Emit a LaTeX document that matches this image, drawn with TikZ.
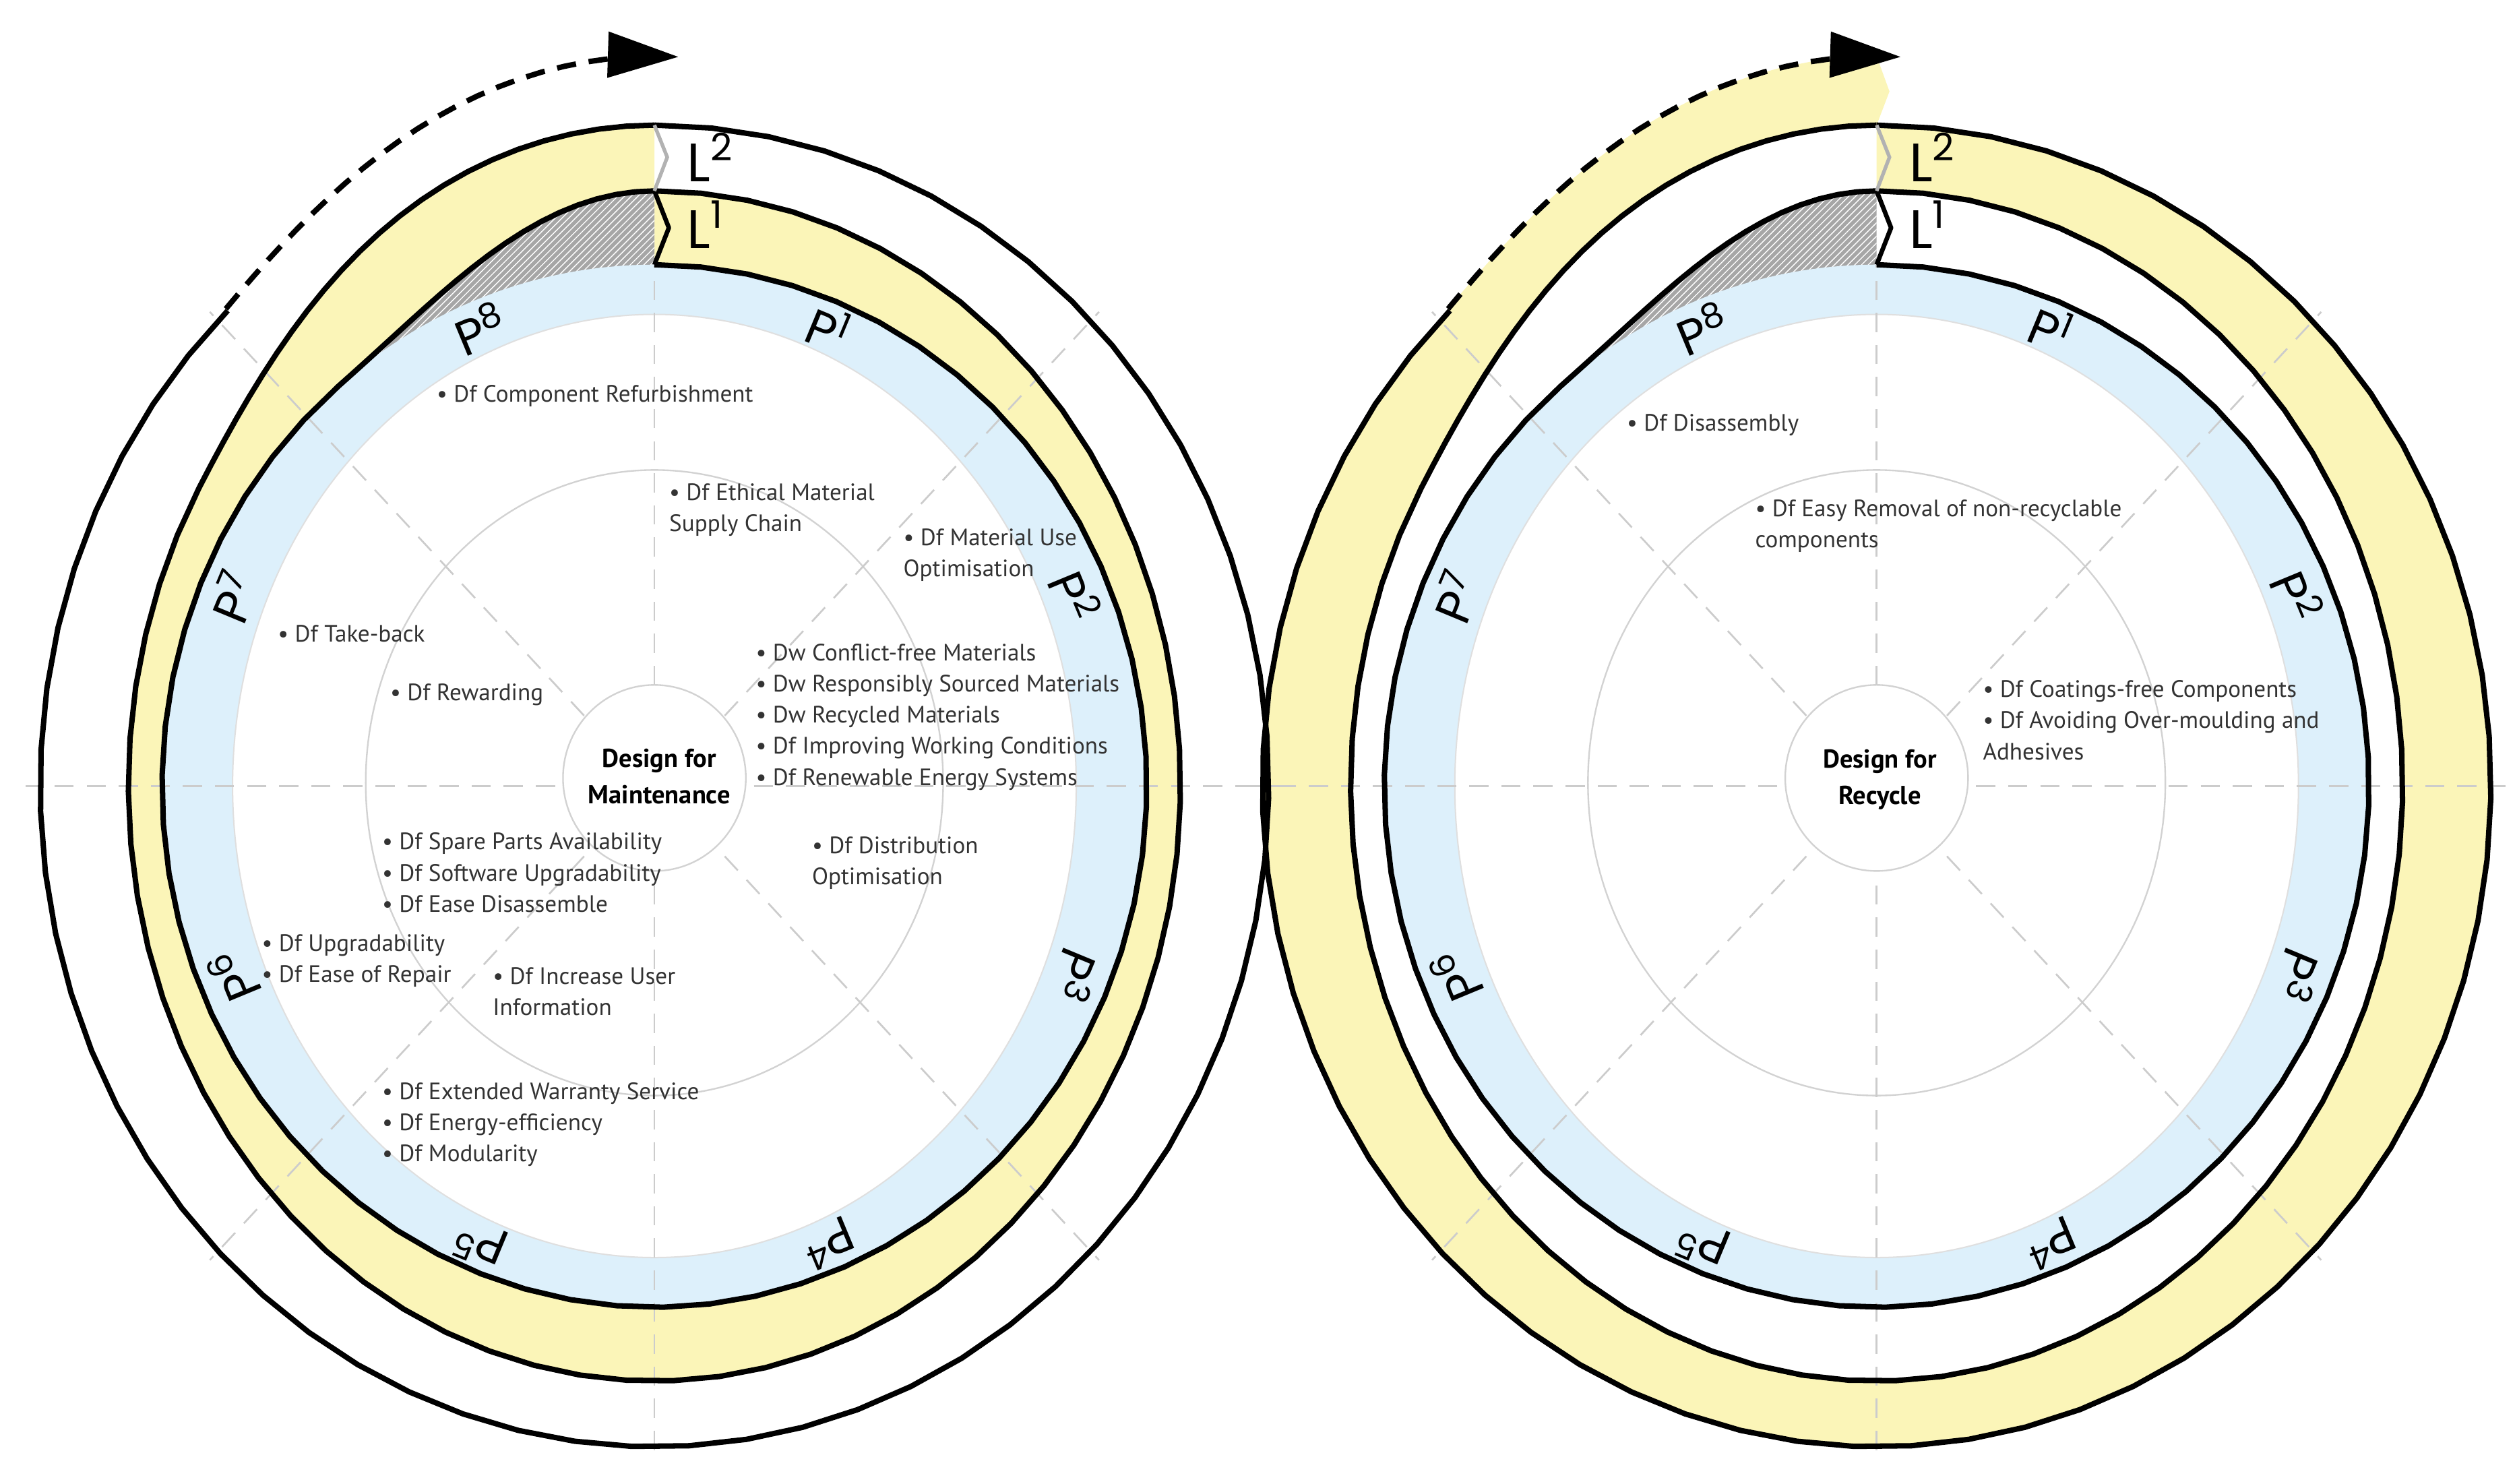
\documentclass[tikz,border=0pt]{standalone}
\usepackage{fontspec}
\setmainfont{PT Sans}
\newfontfamily\pf{Poppins}
\usetikzlibrary{arrows.meta,patterns}
\definecolor{yel}{HTML}{FBF5B8}
\definecolor{blu}{HTML}{DDF0FB}
\definecolor{tx}{HTML}{333333}
\def\spA{plot[domain=0:320,samples=60] ({307*sin(\x)},{-325*cos(\x)}) -- plot[domain=320:360,samples=20] ({(307+10.5*(1-cos(180*(\x-320)/40)))*sin(\x)},{-(325+23*(1-cos(180*(\x-320)/40)))*cos(\x)})}
\def\spAt{plot[domain=300:320,samples=10] ({307*sin(\x)},{-325*cos(\x)}) -- plot[domain=320:360,samples=20] ({(307+10.5*(1-cos(180*(\x-320)/40)))*sin(\x)},{-(325+23*(1-cos(180*(\x-320)/40)))*cos(\x)})}
\def\spB{plot[domain=0:300,samples=60] ({328*sin(\x)},{-371*cos(\x)}) -- plot[domain=300:360,samples=24] ({(328+27.5*(1-cos(180*(\x-300)/60)))*sin(\x)},{-(371+20.5*(1-cos(180*(\x-300)/60)))*cos(\x)})}
\def\spC{plot[domain=0:316,samples=60] ({383*sin(\x)},{-412*cos(\x)})}
\def\spCd{plot[domain=316:362,samples=25] ({(383+23.5*(1-cos(180*(\x-310)/50)))*sin(\x)},{-(412+21.5*(1-cos(180*(\x-310)/50)))*cos(\x)})}
\def\spCfull{plot[domain=0:310,samples=60] ({383*sin(\x)},{-412*cos(\x)}) -- plot[domain=310:360,samples=20] ({(383+23.5*(1-cos(180*(\x-310)/50)))*sin(\x)},{-(412+21.5*(1-cos(180*(\x-310)/50)))*cos(\x)})}
\tikzset{
  sp/.style={line width=2.4pt,black,line join=round},
  spoke/.style={gray!40,line width=0.8pt,dash pattern=on 3mm off 2mm},
  ring/.style={gray!35,line width=0.7pt},
  plab/.style={font=\pf\fontsize{22}{22}\selectfont,inner sep=0},
  llab/.style={font=\pf\fontsize{24}{24}\selectfont,inner sep=0,anchor=west},
  txt/.style={font=\fontsize{10.5}{13.8}\selectfont,text=tx,anchor=west,align=left,inner sep=0},
  ctr/.style={font=\bfseries\fontsize{11.5}{16}\selectfont,text=black,align=center,inner sep=0},
}
\newcommand\dgmbody{%
  \fill[gray!70] \spAt -- (0,0) -- cycle;
  \fill[pattern=north east lines,pattern color=white] \spAt -- (0,0) -- cycle;
  \fill[blu] (0,0) ellipse [x radius=307,y radius=325];
  \fill[white] (0,0) ellipse [x radius=263,y radius=294];
  \draw[gray!25,line width=0.6pt] (0,0) ellipse [x radius=263,y radius=294];
  \draw[ring] (0,-2) ellipse [x radius=180,y radius=195];
  \draw[ring] (0,-5) ellipse [x radius=57,y radius=58];
  \foreach \a in {45,90,...,315} \draw[spoke] ({62*sin(\a)},{-62*cos(\a)}) -- ({392*sin(\a)},{-418*cos(\a)});
  \draw[spoke] (0,-63) -- (0,-325);
  \foreach \a/\n in {22.5/1,67.5/2,112.5/3,157.5/4,202.5/5,247.5/6,292.5/7,337.5/8}
    \node[plab,rotate=-\a] at ({284*sin(\a)},{-309*cos(\a)}) {P\textsuperscript{\n}};
}
\newcommand\dgmlines{%
  \draw[sp] \spA;
  \draw[sp] \spB;
  \draw[sp] \spC;
  \draw[sp,dash pattern=on 3mm off 2mm,-{Triangle[length=11mm,width=7mm]}] \spCd;
  \draw[sp,line width=2pt] (0,-325) -- (9,-348) -- (0,-371);
  \draw[gray!60,line width=1.6pt] (0,-371) -- (8,-392) -- (0,-412);
}
\begin{document}
\begin{tikzpicture}[x=0.25mm,y=-0.25mm]
\useasboundingbox (0,0) rectangle (1568,925);
\begin{scope}[shift={(408,490)}]
  \fill[yel] \spB -- cycle;
  \fill[white] \spA -- cycle;
\end{scope}
\begin{scope}[shift={(1170,490)}]
  \fill[yel] \spCfull -- (8,-433) -- cycle;
  \fill[white] \spB -- cycle;
\end{scope}
\begin{scope}[shift={(408,490)}]\dgmbody\dgmlines\end{scope}
\begin{scope}[shift={(1170,490)}]\dgmbody\dgmlines\end{scope}
\node[llab] (l1a) at (428,140) {L\textsuperscript{1}};
\node[llab] (l2a) at (428,98) {L\textsuperscript{2}};
\node[llab] (l1b) at (1190,140) {L\textsuperscript{1}};
\node[llab] (l2b) at (1190,98) {L\textsuperscript{2}};
\node[ctr] (cm) at (411,484) {Design for\\Maintenance};
\node[ctr] (cr) at (1172,486) {Design for\\Recycle};
\node[txt] (t1) at (272,247) {• Df Component Refurbishment};
\node[txt] (t2) at (417,318) {• Df Ethical Material\\Supply Chain};
\node[txt] (t3) at (563,346) {• Df Material Use\\Optimisation};
\node[txt] (t4) at (173,395) {• Df Take-back};
\node[txt] (t5) at (243,433) {• Df Rewarding};
\node[txt] (t6) at (471,447) {• Dw Conflict-free Materials\\• Dw Responsibly Sourced Materials\\• Dw Recycled Materials\\• Df Improving Working Conditions\\• Df Renewable Energy Systems};
\node[txt] (t7) at (506,538) {• Df Distribution\\Optimisation};
\node[txt] (t8) at (238,544) {• Df Spare Parts Availability\\• Df Software Upgradability\\• Df Ease Disassemble};
\node[txt] (t9) at (163,599) {• Df Upgradability\\• Df Ease of Repair};
\node[txt] (t10) at (307,618) {• Df Increase User\\Information};
\node[txt] (t11) at (238,701) {• Df Extended Warranty Service\\• Df Energy-efficiency\\• Df Modularity};
\node[txt] (r1) at (1014,265) {• Df Disassembly};
\node[txt] (r2) at (1094,328) {• Df Easy Removal of non-recyclable\\components};
\node[txt] (r3) at (1236,449) {• Df Coatings-free Components\\• Df Avoiding Over-moulding and\\Adhesives};
\end{tikzpicture}
\end{document}
